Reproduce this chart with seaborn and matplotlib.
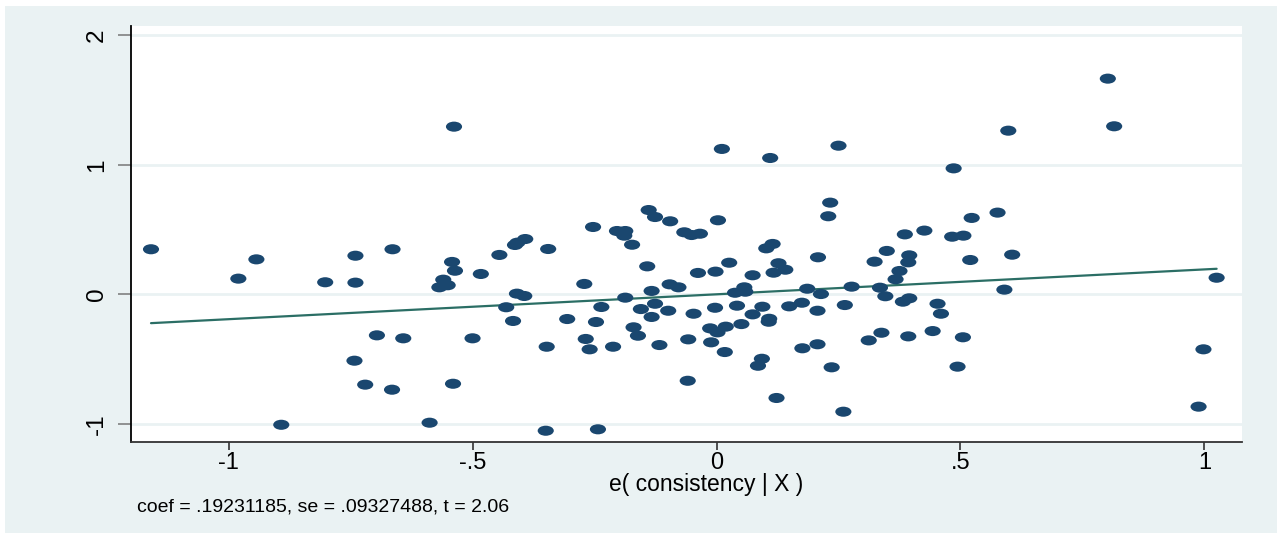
import numpy as np
import pandas as pd
import matplotlib
matplotlib.use("Agg")
import matplotlib.pyplot as plt
from matplotlib.path import Path
from matplotlib.patches import Rectangle
import seaborn as sns

# ---- data ----
e_consistency = [
    -1.159, -0.943, -0.980, -0.740, -0.664, -0.802, -0.740, -0.538, -0.542, -0.536,
    -0.560, -0.551, -0.568, -0.483, -0.696, -0.642, -0.500, -0.742, -0.720, -0.665,
    -0.540, -0.892, -0.588,
    -0.445, -0.413, -0.408, -0.392, -0.345, -0.253, -0.204, -0.187, -0.189, -0.173,
    -0.139, -0.126, -0.095, -0.066, -0.051, -0.034, 0.003, 0.011, 0.110, 0.250,
    0.233, 0.229, 0.208, 0.026, -0.038, -0.002, 0.074, 0.102, 0.115, 0.127,
    0.141, 0.117, -0.142, -0.271, -0.409, -0.394, -0.431, -0.417, -0.306, -0.236,
    -0.247, -0.187, -0.133, -0.096, -0.078, -0.155, -0.126, -0.133, -0.099, -0.047,
    -0.003, -0.170, -0.161, -0.268, -0.260, -0.348, -0.212, -0.117, -0.058, -0.011,
    -0.013, 0.002, 0.019, 0.051, 0.017, -0.059, 0.038, 0.057, 0.059, 0.042,
    0.094, 0.074, 0.108, 0.107, 0.093, 0.085, 0.123, 0.149, 0.175, 0.186,
    0.214, 0.207, 0.263, 0.277, 0.176, 0.207, 0.236, 0.260, -0.350, -0.243,
    0.802, 0.815, 0.598, 0.486, 0.576, 0.523, 0.426, 0.386, 0.483, 0.506,
    0.349, 0.324, 0.395, 0.393, 0.375, 0.367, 0.520, 0.606, 0.335, 0.346,
    0.382, 0.395, 0.453, 0.460, 0.590, 1.025, 0.312, 0.338, 0.393, 0.443,
    0.505, 0.494, 0.998, 0.988,
]
e_outcome = [
    0.348, 0.270, 0.121, 0.298, 0.348, 0.093, 0.090, 1.295, 0.250, 0.182,
    0.113, 0.070, 0.054, 0.157, -0.317, -0.340, -0.340, -0.513, -0.698, -0.737,
    -0.691, -1.008, -0.992,
    0.304, 0.381, 0.399, 0.427, 0.350, 0.520, 0.489, 0.489, 0.453, 0.383,
    0.651, 0.597, 0.564, 0.479, 0.458, 0.468, 0.572, 1.123, 1.053, 1.148,
    0.708, 0.603, 0.286, 0.244, 0.165, 0.175, 0.147, 0.355, 0.389, 0.240,
    0.190, 0.167, 0.216, 0.080, 0.005, -0.013, -0.100, -0.206, -0.191, -0.098,
    -0.214, -0.026, 0.026, 0.077, 0.054, -0.114, -0.073, -0.175, -0.127, -0.150,
    -0.104, -0.255, -0.320, -0.345, -0.425, -0.405, -0.405, -0.392, -0.348, -0.371,
    -0.263, -0.294, -0.250, -0.230, -0.446, -0.668, 0.012, 0.054, 0.020, -0.088,
    -0.096, -0.155, -0.189, -0.212, -0.498, -0.552, -0.801, -0.093, -0.065, 0.043,
    0.002, -0.127, -0.083, 0.059, -0.417, -0.386, -0.564, -0.907, -1.054, -1.043,
    1.666, 1.298, 1.264, 0.973, 0.631, 0.590, 0.492, 0.463, 0.445, 0.453,
    0.335, 0.252, 0.301, 0.247, 0.180, 0.116, 0.265, 0.306, 0.051, -0.015,
    -0.057, -0.031, -0.073, -0.150, 0.036, 0.128, -0.356, -0.297, -0.325, -0.284,
    -0.332, -0.559, -0.425, -0.868,
]
coef = 0.19231185
se = 0.09327488
t_stat = 2.06

x_ticks = [-1, -0.5, 0, 0.5, 1]
x_tick_labels = ["-1", "-.5", "0", ".5", "1"]
y_ticks = [-1, 0, 1, 2]
y_tick_labels = ["-1", "0", "1", "2"]
x_label = "e( consistency | X )"
note = f"coef = {coef:.8f}".replace("0.", ".") + f", se = {se:.8f}".replace("0.", ".") + f", t = {t_stat:.2f}"

df = pd.DataFrame({"x": e_consistency, "y": e_outcome})
fit_x = [min(e_consistency), max(e_consistency)]
fit = pd.DataFrame({"x": fit_x, "y": [coef * v for v in fit_x]})

# ---- style ----
sns.set_theme(style="white")
plt.rcParams["font.family"] = ["Liberation Sans", "DejaVu Sans"]

W, H = 1277, 533
fig = plt.figure(figsize=(W / 100, H / 100), dpi=100, facecolor="white")
bg = "#EAF2F3"
fig.patches.append(Rectangle((5 / W, 0.5 / H), (W - 5) / W, (H - 6.5) / H,
                             transform=fig.transFigure, facecolor=bg,
                             edgecolor="none", zorder=-10))

L, R, T, B = 131, 1242, 25.7, 442
ax = fig.add_axes([L / W, 1 - B / H, (R - L) / W, (B - T) / H])
ax.set_facecolor("white")

navy = "#1A476F"
uc = Path.unit_circle()
ellipse = Path(uc.vertices * np.array([1.6, 1.0]), uc.codes)

sns.scatterplot(data=df, x="x", y="y", ax=ax, marker=ellipse, s=135,
                color=navy, edgecolor="none", linewidth=0, zorder=3)
sns.lineplot(data=fit, x="x", y="y", ax=ax, color="#2B6E65", linewidth=1.6,
             zorder=2)

ax.set_xlim(-1.200, 1.077)
ax.set_ylim(-1.141, 2.075)

for yt in y_ticks:
    ax.axhline(yt, color=bg, linewidth=2.0, zorder=1)

ax.set_xticks(x_ticks)
ax.set_xticklabels(x_tick_labels)
ax.set_yticks(y_ticks)
ax.set_yticklabels(y_tick_labels, rotation=90, va="center")

ax.tick_params(axis="y", which="major", direction="out", length=9.5,
               width=1.2, color="#808080", pad=7, labelsize=17.5,
               labelcolor="black", left=True)
ax.tick_params(axis="x", which="major", direction="out", length=5.5,
               width=1.2, color="#333333", pad=2, labelsize=17,
               labelcolor="black", bottom=True)

for side in ["top", "right"]:
    ax.spines[side].set_visible(False)
ax.spines["left"].set_color("black")
ax.spines["left"].set_linewidth(1.3)
ax.spines["bottom"].set_color("#333333")
ax.spines["bottom"].set_linewidth(1.3)

ax.set_xlabel("")
ax.set_ylabel("")
fig.text(706 / W, 1 - 485 / H, x_label, ha="center", va="center",
         fontsize=16.5, color="black")
fig.text(137 / W, 1 - 507 / H, note, ha="left", va="center",
         fontsize=14, color="black")

fig.savefig("out.png", dpi=100, facecolor="white")
